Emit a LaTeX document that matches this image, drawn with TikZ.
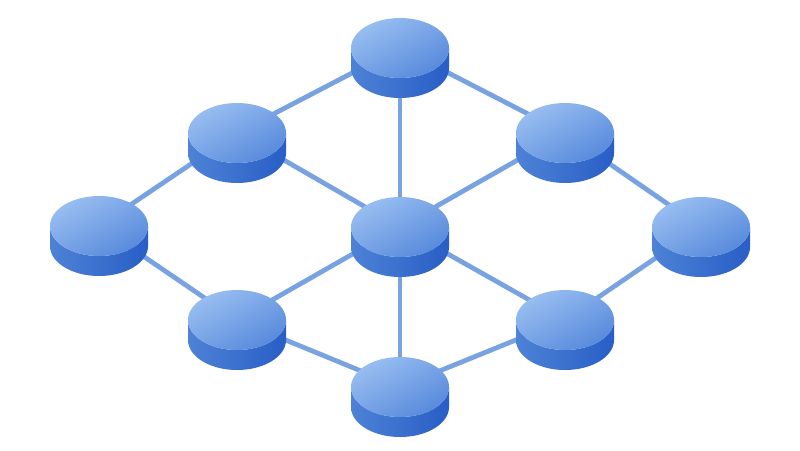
\documentclass[tikz,border=0pt]{standalone}
\definecolor{edgeblue}{RGB}{120,162,224}
\definecolor{facelight}{RGB}{152,190,241}
\definecolor{facedark}{RGB}{88,138,220}
\definecolor{sidelight}{RGB}{78,130,214}
\definecolor{sidedark}{RGB}{40,94,198}
\tikzset{
	link/.style={draw=edgeblue, line width=3.4pt},
	disc/.pic={
		\shade[left color=sidelight, right color=sidedark] (-49,0) -- (-49,-20) arc[start angle=180, end angle=360, x radius=49, y radius=30] -- (49,0) arc[start angle=0, end angle=-180, x radius=49, y radius=30] -- cycle;
		\shade[top color=facelight, bottom color=facedark, shading angle=30] (0,0) ellipse[x radius=49, y radius=30];
	}
}

\begin{document}
\begin{tikzpicture}[x=0.025cm, y=0.025cm]
	\useasboundingbox (0,0) rectangle (800,-450);
	% hubs of the lattice
	\coordinate (top) at (400,-48);
	\coordinate (ul) at (237,-133);
	\coordinate (ur) at (565,-133);
	\coordinate (lft) at (99,-226);
	\coordinate (mid) at (400,-227);
	\coordinate (rgt) at (701,-227);
	\coordinate (ll) at (237,-320);
	\coordinate (lr) at (565,-320);
	\coordinate (bot) at (400,-387);
	\foreach \a/\b in {top/ul, top/ur, top/mid, ul/lft, ul/mid, ur/mid, ur/rgt, lft/ll, mid/ll, mid/lr, mid/bot, rgt/lr, ll/bot, lr/bot}
		\draw[link] (\a) -- (\b);
	\foreach \n in {top, ul, ur, lft, mid, rgt, ll, lr, bot}
		\pic at (\n) {disc};
\end{tikzpicture}
\end{document}
